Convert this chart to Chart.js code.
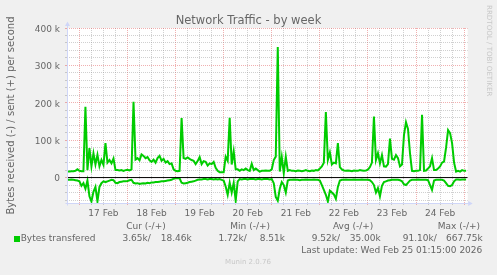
<!DOCTYPE html>
<html><head><meta charset="utf-8">
<script src="https://cdn.jsdelivr.net/npm/chart.js@4/dist/chart.umd.min.js"></script>
<style>
html,body{margin:0;padding:0;background:#F0F0F0;}
#wrap{position:relative;width:497px;height:275px;overflow:hidden;font-family:'DejaVu Sans',sans-serif;color:#666;}
#c{position:absolute;left:0;top:0;}
.t{position:absolute;white-space:pre;line-height:1.164;font-size:9px;}
</style></head><body>
<div id="wrap">
<canvas id="c" width="497" height="275"></canvas>
</div>
<script>
// ---------- data ----------
const chartTitle = 'Network Traffic - by week';
const yAxisTitle = 'Bytes received (-) / sent (+) per second';
const dayLabels = ['17 Feb','18 Feb','19 Feb','20 Feb','21 Feb','22 Feb','23 Feb','24 Feb'];
const firstLabelHour = 36;          // noon of 17 Feb, in hours since 16 Feb 00:00
const startHour = 18;               // first sample: 16 Feb 18:00
const stepHours = 1;                // one sample per hour
const xMinHour = 17.8, xMaxHour = 217.8;
const yMinValue = -68000, yMaxValue = 400000;
const yTickLabels = ['0','100 k','200 k','300 k','400 k'];

// sent (+), kB/s, one value per hour
const sentK = [16,16,17,17,18,22,18,17,17,189,
 20,79,30,65,35,61,30,47,34,92,40,47,38,51,20,
 20,19,20,18,20,21,19,22,203,
 48,52,46,62,58,52,55,46,42,48,40,52,58,45,50,40,44,36,38,22,18,17,18,
 159,52,
 50,54,50,47,45,36,44,55,36,44,42,32,38,36,42,26,18,14,14,14,
 56,45,160,
 35,70,22,22,18,22,20,24,20,18,37,20,24,20,16,18,18,19,18,18,22,
 47,56,349,
 16,55,12,56,18,20,18,
 18,17,19,18,17,18,20,18,17,19,18,20,19,24,
 30,40,175,
 47,67,35,40,38,92,28,22,19,
 18,19,18,17,19,18,18,20,19,18,19,21,
 28,40,163,
 47,65,38,60,30,29,36,104,50,48,60,52,30,35,
 114,148,130,65,18,
 17,18,18,20,168,
 18,19,24,30,52,20,20,24,30,40,43,80,
 127,119,92,40,16,18,16,20,18,18];

// received (-), kB/s, one value per hour
const receivedK = [-6,-6,-5,-6,-7,-8,-10,
 -22,-15,-30,-8,-50,-64,-38,-25,-64,-25,-15,-10,-12,-10,-8,-6,-7,-14,
 -15,-12,-11,-10,-10,-9,-7,-6,
 -14,-16,-15,-17,-16,-15,-16,-14,-15,-13,-13,-12,-12,-11,-10,-10,-9,-8,-7,-6,-3,-2,-2,-2,
 -14,-16,-15,-14,-12,-11,-10,-8,-6,-5,-5,-4,-4,-5,-4,-4,-5,-4,-5,-4,-6,-8,
 -24,-46,-14,-40,-14,-62,-10,
 -4,-5,-4,-4,-5,-4,-4,-4,-5,-4,-4,-5,-4,-4,-4,-5,-4,
 -15,-52,-62,-30,-12,-20,-40,-8,
 -6,-6,-5,-6,-6,-7,-6,-6,-5,-6,-6,-6,-5,-6,-6,
 -8,-20,-33,-46,-64,-35,-40,-45,-57,-25,-8,
 -6,-6,-5,-6,-6,-6,-5,-6,-6,-6,-5,-6,-6,-6,-7,
 -12,-20,-40,-28,-50,-22,-12,-10,-8,
 -7,-6,-6,-6,-6,-7,
 -10,-18,-20,-14,-8,
 -6,-6,-6,-5,-6,-6,-6,-6,-7,
 -20,-33,-8,
 -6,-6,-6,-6,
 -8,-15,-22,-23,-20,-10,
 -5,-5,-6,-5,-5,-5];

const seriesName = 'Bytes transfered';
const statHeaders = ['Cur (-/+)','Min (-/+)','Avg (-/+)','Max (-/+)'];
const statReceived = ['3.65k','1.72k','9.52k','91.10k'];
const statSent = ['18.46k','8.51k','35.00k','667.75k'];
const lastUpdate = 'Last update: Wed Feb 25 01:15:00 2026';
const footer = 'Munin 2.0.76';
const watermark = 'RRDTOOL / TOBI OETIKER';

// ---------- layout / style ----------
const GREEN = '#00CC00';
const GRID = 'rgba(143,143,143,0.42)';
const MGRID = 'rgba(222,79,79,0.45)';
const AXIS = '#CFD6F8';
const FONT = '#666666';
const FAM = "'DejaVu Sans', sans-serif";

const wrap = document.getElementById('wrap');
function addText(txt, css){ const d=document.createElement('div'); d.className='t'; d.textContent=txt; Object.assign(d.style, css); wrap.appendChild(d); return d; }

addText(chartTitle, {left:'0px', width:'497px', textAlign:'center', top:'13.7px', fontSize:'11.5px'});
addText(watermark, {left:'484.4px', top:'5px', fontSize:'7.1px', writingMode:'vertical-rl', color:'#c8c8c8'});
const headerRight = [165.7, 270, 373.3, 480];
const recvRight = [150.7, 246.7, 340, 436.7];
const sentRight = [191.7, 285, 380.7, 482.7];
statHeaders.forEach((h,i)=>addText(h,{right:(497-headerRight[i])+'px', top:'220.9px'}));
statReceived.forEach((v,i)=>addText(v+'/',{right:(497-recvRight[i])+'px', top:'233.2px'}));
statSent.forEach((v,i)=>addText(v,{right:(497-sentRight[i])+'px', top:'233.2px'}));
addText(seriesName,{left:'20.7px', top:'233.2px'});
const box=document.createElement('div'); Object.assign(box.style,{position:'absolute',left:'14px',top:'236px',width:'6px',height:'6px',background:GREEN}); wrap.appendChild(box);
addText(lastUpdate,{right:(497-482.3)+'px', top:'244.9px'});
addText(footer,{left:'0px', width:'496px', textAlign:'center', top:'257.9px', fontSize:'7px', color:'#c8c8c8'});

// ---------- chart ----------
const sentPts = sentK.map((v,i)=>({x:startHour+i*stepHours, y:v*1000}));
const recvPts = receivedK.map((v,i)=>({x:startHour+i*stepHours, y:v*1000}));
const xGrid = []; for (let h=18; h<=xMaxHour; h+=6) xGrid.push(h);
const yGrid = []; for (let v=-60000; v<=yMaxValue; v+=20000) yGrid.push(v);

const bgPlugin = { id:'bg', beforeDraw(chart){ const {ctx, chartArea:a}=chart; ctx.save(); ctx.fillStyle='#fff'; ctx.fillRect(a.left,a.top,a.right-a.left,a.bottom-a.top); ctx.restore(); } };
const axisPlugin = { id:'axes', afterDraw(chart){
  const {ctx, chartArea:a}=chart; const L=Math.round(a.left)+0.5, B=Math.round(a.bottom)+0.5;
  ctx.save(); ctx.strokeStyle=AXIS; ctx.fillStyle=AXIS; ctx.lineWidth=1;
  ctx.beginPath(); ctx.moveTo(L, B+2); ctx.lineTo(L, a.top-3); ctx.stroke();
  ctx.beginPath(); ctx.moveTo(L-2.5, a.top-2); ctx.lineTo(L+2.5, a.top-2); ctx.lineTo(L, a.top-6.5); ctx.closePath(); ctx.fill();
  ctx.beginPath(); ctx.moveTo(L-2, B); ctx.lineTo(a.right+1, B); ctx.stroke();
  ctx.beginPath(); ctx.moveTo(a.right+0.5, B-2.5); ctx.lineTo(a.right+0.5, B+2.5); ctx.lineTo(a.right+5, B); ctx.closePath(); ctx.fill();
  ctx.restore(); } };

new Chart(document.getElementById('c'), {
  type:'line',
  data:{ datasets:[
    {label:'zero', data:[{x:xMinHour,y:0},{x:xMaxHour,y:0}], borderColor:'#000', borderWidth:1, pointRadius:0, order:0, clip:0},
    {label:seriesName+' sent', data:sentPts, borderColor:GREEN, borderWidth:2, pointRadius:0, tension:0, order:1, clip:0},
    {label:seriesName+' received', data:recvPts, borderColor:GREEN, borderWidth:2, pointRadius:0, tension:0, order:2, clip:0}
  ]},
  options:{
    responsive:false, animation:false, devicePixelRatio:1, events:[],
    layout:{padding:{top:28, right:29.3, bottom:52, left:0}},
    plugins:{legend:{display:false}, tooltip:{enabled:false}, title:{display:false}},
    scales:{
      x:{type:'linear', min:xMinHour, max:xMaxHour, offset:false,
        afterBuildTicks:s=>{ s.ticks = xGrid.map(v=>({value:v})); },
        afterFit:s=>{ s.height=20; },
        ticks:{autoSkip:false, maxRotation:0, padding:3, color:FONT, font:{family:FAM,size:9},
          callback:v=>{ const k=(v-firstLabelHour)/24; return (Number.isInteger(k)&&k>=0&&k<dayLabels.length)?dayLabels[k]:''; }},
        grid:{color:c=> (c.tick && c.tick.value%24===0)?MGRID:GRID, tickColor:c=> (c.tick && c.tick.value%24===0)?MGRID:GRID, tickLength:2, tickBorderDash:[]},
        border:{display:false, dash:[1,1]}
      },
      y:{type:'linear', min:yMinValue, max:yMaxValue,
        afterBuildTicks:s=>{ s.ticks = yGrid.map(v=>({value:v})); },
        afterFit:s=>{ s.width=67; },
        ticks:{autoSkip:false, padding:5, labelOffset:1.5, color:FONT, font:{family:FAM,size:9},
          callback:v=>{ const k=v/100000; return (Number.isInteger(k)&&k>=0&&k<yTickLabels.length)?yTickLabels[k]:''; }},
        grid:{color:c=> (c.tick && c.tick.value%100000===0)?MGRID:GRID, tickColor:c=> (c.tick && c.tick.value%100000===0)?MGRID:GRID, tickLength:2, tickBorderDash:[]},
        border:{display:false, dash:[1,1]},
        title:{display:true, text:yAxisTitle, color:FONT, font:{family:FAM,size:10,lineHeight:1.2}, padding:{top:5,bottom:0}}
      }
    }
  },
  plugins:[bgPlugin, axisPlugin]
});
</script>
</body></html>
